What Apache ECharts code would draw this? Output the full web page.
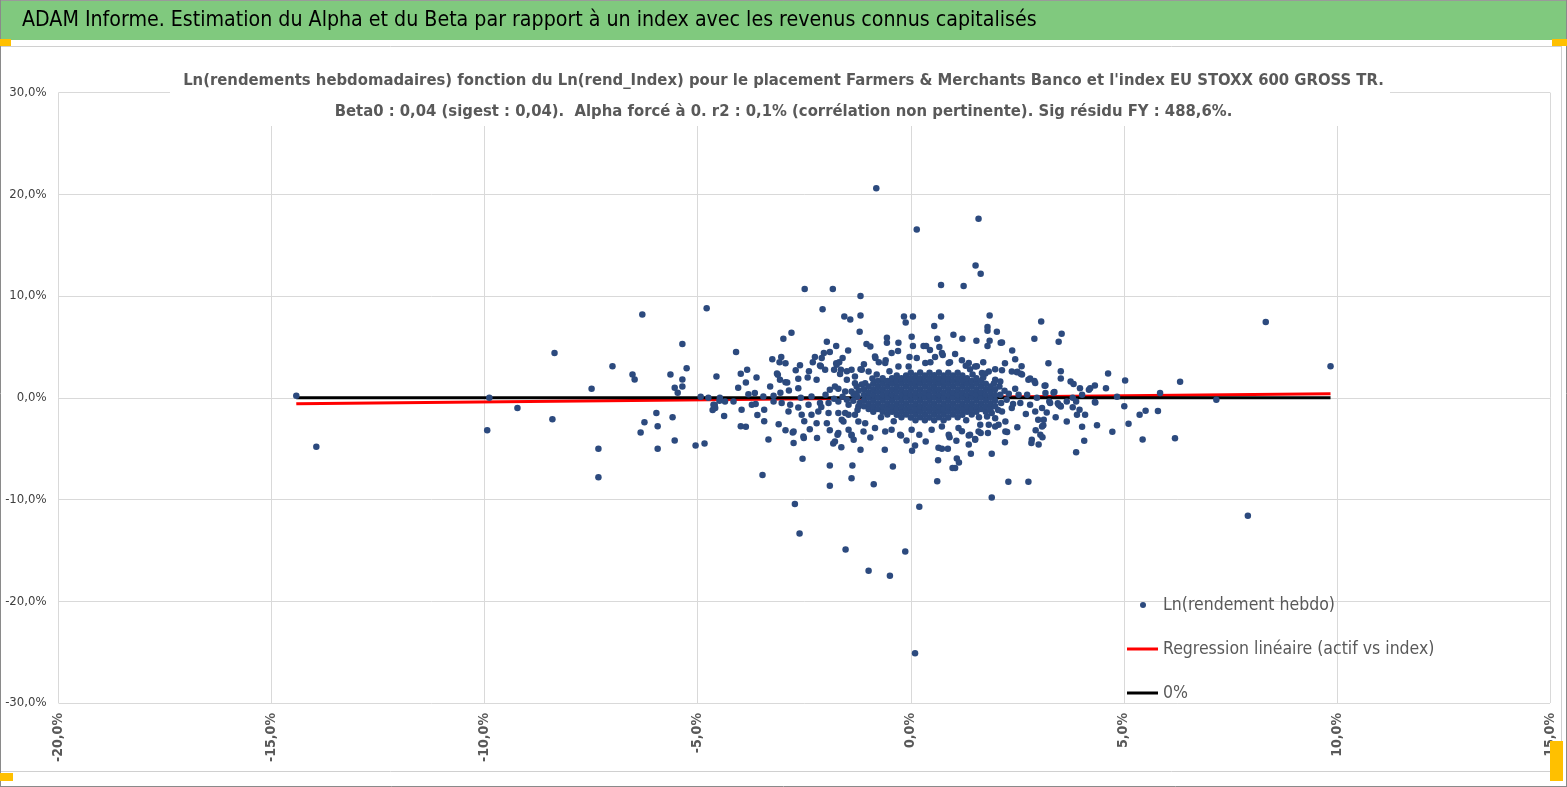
<!DOCTYPE html>
<html>
<head>
<meta charset="utf-8">
<script src="https://cdn.jsdelivr.net/npm/echarts@6/dist/echarts.min.js"></script>
<style>
html,body{margin:0;padding:0;background:#fff;}
#c{width:1567px;height:787px;}
</style>
</head>
<body>
<div id="c"></div>
<script>
// ---- Data (values in percent) ----
var headerTitle = "ADAM Informe. Estimation du Alpha et du Beta par rapport à un index avec les revenus connus capitalisés";
var subTitle1 = "Ln(rendements hebdomadaires) fonction du Ln(rend_Index) pour le placement Farmers & Merchants Banco et l'index EU STOXX 600 GROSS TR.";
var subTitle2 = "Beta0 : 0,04 (sigest : 0,04).  Alpha forcé à 0. r2 : 0,1% (corrélation non pertinente). Sig résidu FY : 488,6%.";
var seriesNames = ["Ln(rendement hebdo)", "Regression linéaire (actif vs index)", "0%"];

var xTicks = [-20, -15, -10, -5, 0, 5, 10, 15];
var yTicks = [-30, -20, -10, 0, 10, 20, 30];

// far points (outliers)
var farPts = [
[-14.42,0.2],[-13.95,-4.8],[-9.89,0.0],[-9.94,-3.2],[-9.23,-1.0],[-8.36,4.4],[-8.41,-2.1],[-7.49,0.9],[-7.0,3.1],[-7.33,-5.0],[-7.33,-7.8],
[-6.53,2.3],[-6.48,1.8],[-6.3,8.2],[-6.25,-2.4],[-6.34,-3.4],[-5.97,-1.5],[-5.94,-2.8],[-5.94,-5.0],[-5.64,2.3],[-5.54,1.0],[-5.47,0.5],
[-5.36,5.3],[-5.36,1.8],[-5.36,1.1],[-5.26,2.9],[-5.59,-1.9],[-5.54,-4.2],[-5.05,-4.7],[-4.84,-4.5],[-4.93,0.1],[-4.79,8.8],
[-0.81,20.6],[0.14,16.55],[1.59,17.6],[1.52,13.0],[1.64,12.2],[0.71,11.1],[1.24,11.0],[-2.49,10.7],[-1.83,10.7],[-1.18,10.0],
[-2.07,8.7],[-1.56,8.0],[-1.42,7.7],[-1.18,8.1],[-0.16,8.0],[-0.12,7.4],[0.05,8.0],[0.71,8.0],[1.85,8.1],[3.06,7.5],
[-3.48,-7.6],[-2.72,-10.45],[-2.61,-13.35],[-1.9,-8.65],[-1.39,-7.9],[-1.53,-14.9],[-0.87,-8.5],[-0.99,-17.0],[-0.49,-17.5],
[-0.13,-15.1],[0.2,-10.7],[0.62,-8.2],[1.9,-9.8],[2.29,-8.26],[2.76,-8.26],[0.1,-25.1],
[8.33,7.44],[9.85,3.1],[7.91,-11.6],[7.17,-0.2],[6.32,1.57],[5.85,0.46],[6.2,-3.97],[5.8,-1.3],[5.44,-4.1],[5.51,-1.28],
[5.37,-1.67],[5.11,-2.56],[5.01,-0.82],[5.03,1.7],[4.84,0.1],[4.73,-3.34],[4.63,2.4]
];

// middle-ring points
var midPts = [
[-4.56,2.1],[-4.65,-1.2],[-4.6,-0.7],[-4.49,-0.3],[-4.75,0.0],[-4.63,-0.69],[-4.48,0.0],[-4.36,-0.36],[-4.16,-0.36],[-4.38,-1.8],
[-4.59,-1.01],[-4.1,4.5],[-3.99,2.36],[-3.84,2.75],[-4.05,1.0],[-3.87,1.5],[-3.62,2.0],[-3.25,3.8],[-3.08,3.5],[-3.04,4.0],
[-2.99,5.8],[-2.8,6.4],[-2.94,3.4],[-3.12,2.26],[-3.14,2.4],[-3.07,1.77],[-2.94,1.54],[-2.9,1.5],[-2.86,0.72],[-3.06,0.5],
[-2.6,3.2],[-2.64,1.87],[-2.64,0.95],[-2.42,2.0],[-2.39,2.6],[-2.25,4.0],[-2.09,3.9],[-2.04,4.4],[-1.97,5.5],[-1.9,4.5],
[-1.75,5.1],[-1.47,4.65],[-2.11,3.1],[-2.13,3.17],[-2.01,2.75],[-2.21,1.77],[-1.75,3.4],[-1.68,3.5],[-1.74,3.24],[-1.8,2.75],
[-1.64,2.75],[-1.66,2.33],[-1.5,2.6],[-1.31,2.1],[-1.18,2.8],[-1.2,6.5],[-1.04,5.3],[-0.95,5.05],[-0.83,3.9],[-0.84,4.06],
[-0.56,5.9],[-0.56,5.4],[-0.45,4.4],[-0.29,5.4],[-0.59,3.7],[-0.75,3.5],[-0.6,3.41],[-0.29,3.08],[-0.05,3.08],[-0.03,4.0],
[0.02,6.0],[0.05,5.1],[0.3,5.1],[0.36,5.1],[0.14,3.9],[0.34,3.41],[0.57,4.0],[0.75,4.2],[0.73,4.4],[0.89,3.41],[1.04,4.3],
[0.46,3.5],[0.92,3.5],[0.55,7.05],[1.0,6.2],[1.21,5.8],[0.62,5.8],[0.67,5.0],[1.54,5.6],[1.8,6.95],[1.8,6.6],[2.02,6.5],
[1.85,5.6],[1.8,5.1],[2.11,5.4],[2.14,5.44],[2.38,4.65],[2.45,3.8],[2.21,3.4],[1.36,3.41],[1.51,3.08],[1.29,3.15],[1.39,2.8],
[1.55,3.1],[1.67,2.43],[1.83,2.59],[1.75,2.4],[1.98,2.8],[2.14,2.7],[1.98,1.77],[2.37,2.59],[2.49,2.5],[2.61,2.3],[2.5,2.56],
[2.58,2.36],[2.8,1.9],[2.76,1.77],[2.9,1.64],[2.92,1.45],[3.16,1.2],[3.14,1.18],[3.35,0.5],[3.37,0.56],
[2.9,5.8],[3.54,6.3],[3.47,5.5],[3.23,3.4],[3.52,2.6],[3.52,1.9],[3.75,1.6],[3.82,1.35],[3.97,0.95],[4.18,0.8],[4.32,1.2],
[4.58,0.95],[4.21,0.95],[4.02,0.29],[3.8,0.0],[3.88,-0.36],[3.8,-0.92],[4.32,-0.42],[4.33,-0.46],[3.51,-0.79],[3.27,-0.52],
[3.45,-0.53],[3.52,-0.85],[3.47,-0.69],[3.25,-0.36],[3.08,-1.01],[2.92,-1.35],[2.8,-0.69],[2.96,0.0],[3.16,0.46],[2.73,0.29],
[2.53,0.29],[2.57,-0.52],[2.37,-1.01],[2.14,-1.35],[3.66,-0.36],[3.9,-1.67],[3.96,-1.18],[4.09,-1.67],[3.19,-1.44],
[-3.99,-2.8],[-3.87,-2.85],[-3.34,-4.1],[-3.44,-2.3],[-3.1,-2.6],[-2.94,-3.2],[-2.77,-3.4],[-2.75,-4.45],[-2.54,-6.0],
[-2.51,-3.96],[-2.37,-3.1],[-2.2,-3.96],[-1.9,-6.65],[-1.82,-4.5],[-1.63,-4.85],[-1.72,-3.64],[-1.39,-3.7],[-1.37,-6.65],
[-1.18,-5.1],[-0.61,-5.1],[-0.42,-6.75],[-0.23,-3.7],[0.03,-5.2],[0.1,-4.7],[0.2,-3.64],[0.64,-6.13],[0.65,-4.9],[0.73,-5.0],
[0.87,-5.0],[0.91,-3.87],[0.98,-6.9],[1.04,-6.9],[1.08,-5.96],[1.13,-6.36],[1.07,-4.23],[1.36,-4.6],[1.41,-5.5],[1.36,-3.7],
[1.51,-4.06],[1.51,-4.13],[1.64,-3.47],[1.81,-3.47],[1.9,-5.5],[2.21,-4.36],[2.26,-3.37],[2.22,-3.31],[2.83,-4.45],[2.84,-4.13],
[2.93,-3.2],[3.0,-4.6],[3.09,-3.87],[3.04,-3.64],[3.11,-2.7],[3.08,-2.82],[2.99,-2.16],[3.12,-2.16],[3.66,-2.33],[3.88,-5.34],
[4.02,-2.85],[4.07,-4.23],[4.37,-2.7],[2.22,-2.33],[2.06,-2.66],[1.98,-2.0],[1.79,-1.84],[1.83,-2.66],[1.63,-2.66],[1.39,-3.64],
[1.59,-3.31],[1.98,-2.82],[1.12,-2.98],[0.89,-3.64],[0.73,-2.82],[0.49,-3.15],[0.02,-3.15],[-0.25,-3.64],[-0.45,-3.15],
[-0.6,-3.31],[-0.84,-2.98],[-1.07,-2.49],[-1.39,-3.64],[-1.58,-2.33],[-1.54,-1.5],[-1.31,-1.67]
];

// points around the dense core, near the zero line
var nearPts = [
[-3.22,0.2],[-3.46,0.13],[-3.66,0.46],[-3.81,0.36],[-3.97,-1.18],[-3.73,-0.69],[-3.64,-0.62],[-3.44,-1.18],[-3.22,-0.36],
[-3.03,-0.52],[-2.83,-0.69],[-2.64,-0.95],[-2.87,-1.35],[-2.56,-1.67],[-2.33,-1.67],[-2.17,-1.35],[-2.4,-0.69],[-2.13,-0.52],
[-1.93,-0.52],[-1.7,-0.36],[-1.93,-1.5],[-1.7,-1.5],[-1.62,-2.16],[-1.46,-1.67],[-1.97,-2.49],[-2.21,-2.49],[-2.75,-3.31],
[-2.52,-3.8],[-1.7,-3.47],[-1.46,-3.15],[-1.23,-2.33],[-1.11,-3.31],[-1.34,-4.13],[-1.78,-4.29],[-1.23,-0.85],[-1.46,-0.69],
[-1.34,0.29],[-1.54,0.62],[-1.27,1.11],[-1.07,1.44],[-1.15,2.75],[-0.99,2.59],[-1.39,2.75],[-1.5,1.77],[-1.31,1.44],
[-1.78,1.11],[-1.9,0.79],[-2.33,0.13],[-2.58,0.0],[-1.5,-0.2],[-1.39,0.62],[-1.25,0.1],[-1.2,-0.5],[-1.22,0.7],[-1.35,-0.3],
[-1.3,0.4],[-1.6,0.1],[-1.7,0.9],[-1.8,-0.1],[-2.0,0.3],[-2.1,-0.9],[-1.25,-1.2],[-1.15,1.3],[-0.9,1.9],[-0.8,2.3],[-0.5,2.6],
[2.1,0.3],[2.12,-0.5],[2.08,1.1],[2.2,0.7],[2.25,-0.2],[2.3,0.4],[2.4,-0.6],[2.45,0.9],[2.1,1.6],[2.05,-1.2],[1.95,1.4],
[1.9,-1.5],[1.7,2.0],[1.45,2.3],[-0.7,-1.9],[-0.4,-2.3],[1.3,-2.2],[1.6,-1.9],
[-2.7,2.7],[-2.3,3.5],[-1.6,3.9],[-1.1,3.3],[-0.3,4.6],[0.45,4.7],[1.2,3.7],[1.7,3.5],[2.6,3.1],[-2.5,-2.3],[-1.9,-3.2],
[-0.95,-3.9],[-0.1,-4.2],[0.35,-4.3],[1.2,-3.3],[2.5,-2.9],[2.7,-1.6],[-3.3,1.1],[-3.6,-1.7],[3.4,-1.9]
];

// dense core: columns of x with their y values
var coreX = [-1.10,-0.99,-0.88,-0.77,-0.66,-0.55,-0.44,-0.33,-0.22,-0.11,0.00,0.11,0.22,0.33,0.44,0.55,0.66,0.77,0.88,0.99,1.10,1.21,1.32,1.43,1.54,1.65,1.76,1.87,1.98];
var coreY = [
[-0.82,-0.27,0.28,0.83],
[-1.10,-0.56,0.01,0.55,1.12],
[-1.37,-0.83,-0.28,0.27,0.82,1.38],
[-1.11,-0.55,0.0,0.56,1.1,1.64],
[-1.38,-0.82,-0.27,0.28,0.83,1.37,1.92],
[-1.65,-1.1,-0.55,0.01,0.55,1.1,1.66],
[-1.37,-0.83,-0.28,0.27,0.82,1.38,1.93],
[-1.66,-1.1,-0.55,0.0,0.56,1.1,1.65,2.2],
[-1.92,-1.38,-0.82,-0.28,0.28,0.82,1.37,1.93],
[-1.65,-1.1,-0.56,0.0,0.55,1.11,1.65,2.2],
[-1.93,-1.37,-0.83,-0.27,0.28,0.83,1.38,1.92,2.47],
[-2.2,-1.65,-1.1,-0.55,0.0,0.55,1.1,1.65,2.2],
[-1.92,-1.38,-0.82,-0.28,0.27,0.82,1.38,1.93,2.48],
[-2.2,-1.66,-1.1,-0.55,0.01,0.55,1.1,1.66,2.2],
[-1.93,-1.37,-0.83,-0.28,0.28,0.83,1.37,1.92,2.47],
[-2.2,-1.65,-1.1,-0.55,0.0,0.56,1.1,1.65,2.21],
[-1.92,-1.38,-0.82,-0.27,0.27,0.82,1.38,1.93,2.48],
[-2.21,-1.65,-1.1,-0.56,0.0,0.55,1.1,1.66,2.2],
[-1.93,-1.37,-0.83,-0.28,0.28,0.83,1.37,1.92,2.47],
[-1.65,-1.1,-0.55,0.0,0.55,1.1,1.65,2.2],
[-1.92,-1.38,-0.82,-0.27,0.28,0.82,1.38,1.93,2.47],
[-1.66,-1.1,-0.55,0.01,0.55,1.11,1.65,2.2],
[-1.37,-0.83,-0.28,0.27,0.83,1.37,1.92],
[-1.65,-1.1,-0.55,0.0,0.55,1.1,1.65],
[-1.38,-0.82,-0.27,0.28,0.82,1.38,1.93],
[-1.1,-0.56,0.0,0.55,1.1,1.65],
[-1.37,-0.83,-0.28,0.27,0.83,1.38],
[-1.1,-0.55,0.0,0.56,1.1],
[-0.82,-0.28,0.27,0.83]
];

// regression (beta 0.04, alpha 0) and zero line, between min and max index return
var lineX = [-14.42, 9.85];
var regY = [-0.58, 0.39];
var zeroY = [0, 0];

// ---- build ----
var scatterData = [];
farPts.forEach(function(p){ scatterData.push(p); });
midPts.forEach(function(p){ scatterData.push(p); });
nearPts.forEach(function(p){ scatterData.push(p); });
coreX.forEach(function(x, i){ coreY[i].forEach(function(y){ scatterData.push([x, y]); }); });

var FONT = "'DejaVu Sans Condensed','Liberation Sans Narrow',sans-serif";
function pct(v){ return v.toFixed(1).replace('.', ',') + '%'; }

var legendText = {fontFamily: FONT, fontSize: 17.5, color: '#595959', lineHeight: 22};

var chart = echarts.init(document.getElementById('c'), null, {renderer:'canvas'});
chart.setOption({
  animation: false,
  backgroundColor: '#ffffff',
  textStyle: {fontFamily: FONT},
  graphic: [
    {type:'rect', z:-1, shape:{x:0,y:0,width:1567,height:40}, style:{fill:'#80c97e'}},
    {type:'line', z:-1, shape:{x1:0,y1:0.5,x2:1567,y2:0.5}, style:{stroke:'#9a9a9a',lineWidth:1}},
    {type:'line', z:-1, shape:{x1:0,y1:46.5,x2:1562,y2:46.5}, style:{stroke:'#d0d0d0',lineWidth:1}},
    {type:'line', z:-1, shape:{x1:0,y1:771.5,x2:1562,y2:771.5}, style:{stroke:'#d0d0d0',lineWidth:1}},
    {type:'line', z:-1, shape:{x1:1561.5,y1:46,x2:1561.5,y2:772}, style:{stroke:'#d0d0d0',lineWidth:1}},
    {type:'line', z:-1, shape:{x1:0.5,y1:0,x2:0.5,y2:787}, style:{stroke:'#8a8a8a',lineWidth:1}},
    {type:'line', z:-1, shape:{x1:0,y1:786.5,x2:1567,y2:786.5}, style:{stroke:'#8a8a8a',lineWidth:1}},
    {type:'line', z:-1, shape:{x1:1566.5,y1:0,x2:1566.5,y2:787}, style:{stroke:'#8a8a8a',lineWidth:1}},
    {type:'rect', z:2, shape:{x:170,y:64,width:1220,height:62}, style:{fill:'#ffffff'}},
    {type:'rect', z:20, shape:{x:0,y:39,width:11,height:7}, style:{fill:'#ffc000'}},
    {type:'rect', z:20, shape:{x:1552,y:39,width:15,height:7}, style:{fill:'#ffc000'}},
    {type:'rect', z:20, shape:{x:0,y:773,width:13,height:8}, style:{fill:'#ffc000'}},
    {type:'rect', z:20, shape:{x:1550,y:741,width:13,height:40}, style:{fill:'#ffc000'}}
  ],
  title: [
    {text: headerTitle, left: 22, top: 10, padding: 0,
     textStyle: {fontFamily: FONT, fontSize: 21.2, fontWeight: 'normal', color: '#000000'}},
    {text: subTitle1, left: 'center', top: 72, padding: 0, z: 10,
     textStyle: {fontFamily: FONT, fontSize: 16.5, fontWeight: 'bold', color: '#595959'}},
    {text: subTitle2, left: 'center', top: 103, padding: 0, z: 10,
     textStyle: {fontFamily: FONT, fontSize: 16.5, fontWeight: 'bold', color: '#595959'}}
  ],
  legend: [
    {orient: 'vertical', left: 1140, top: 594, padding: 0, itemWidth: 30, itemHeight: 6,
     data: [seriesNames[0]], textStyle: legendText},
    {orient: 'vertical', left: 1127, top: 638, padding: 0, itemWidth: 31, itemHeight: 3,
     data: [{name: seriesNames[1], icon: 'rect'}], textStyle: legendText},
    {orient: 'vertical', left: 1127, top: 682, padding: 0, itemWidth: 31, itemHeight: 3,
     data: [{name: seriesNames[2], icon: 'rect'}], textStyle: legendText}
  ],
  grid: {left: 58.5, right: 17, top: 92.6, bottom: 84, containLabel: false},
  xAxis: {
    type: 'value', min: xTicks[0], max: xTicks[xTicks.length-1], interval: 5,
    axisLine: {show: false}, axisTick: {show: false},
    splitLine: {show: true, lineStyle: {color: '#d9d9d9', width: 1}},
    axisLabel: {rotate: 90, margin: 10, formatter: pct, fontFamily: FONT, fontSize: 14, fontWeight: 'bold', color: '#595959'}
  },
  yAxis: {
    type: 'value', min: yTicks[0], max: yTicks[yTicks.length-1], interval: 10,
    axisLine: {show: false}, axisTick: {show: false},
    splitLine: {show: true, lineStyle: {color: '#d9d9d9', width: 1}},
    axisLabel: {margin: 12, formatter: pct, fontFamily: FONT, fontSize: 13, fontWeight: 'normal', color: '#404040'}
  },
  series: [
    {name: seriesNames[0], type: 'scatter', z: 5, symbol: 'circle', symbolSize: 6.5,
     itemStyle: {color: '#2c4a7e', opacity: 1}, data: scatterData},
    {name: seriesNames[1], type: 'line', z: 3, symbol: 'none', showSymbol: false,
     lineStyle: {color: '#ff0000', width: 3}, itemStyle: {color: '#ff0000'},
     data: [[lineX[0], regY[0]], [lineX[1], regY[1]]]},
    {name: seriesNames[2], type: 'line', z: 4, symbol: 'none', showSymbol: false,
     lineStyle: {color: '#000000', width: 3}, itemStyle: {color: '#000000'},
     data: [[lineX[0], zeroY[0]], [lineX[1], zeroY[1]]]}
  ]
});
</script>
</body>
</html>
